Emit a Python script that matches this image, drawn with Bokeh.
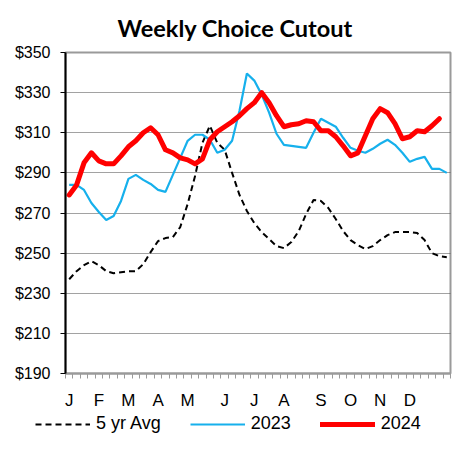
from bokeh.plotting import figure
from bokeh.layouts import column, row
from bokeh.models import Range1d, FixedTicker, Legend, LegendItem, NumeralTickFormatter
from bokeh.embed import file_html
from bokeh.resources import INLINE

# ---- data ----
month_labels = ["J", "F", "M", "A", "M", "J", "J", "A", "S", "O", "N", "D"]
month_start_week = [0, 4, 8, 12, 16, 21, 25, 29, 34, 38, 42, 46]
y_ticks = [190, 210, 230, 250, 270, 290, 310, 330, 350]
series_names = ["5 yr Avg", "2023", "2024"]

avg5 = [237, 241, 244, 246, 244, 241, 240, 240.5, 241, 241, 244.5, 250.5, 256,
        257.5, 258, 263, 274.5, 288.5, 305, 313.5, 305, 301.5, 290, 279, 271, 265,
        260.5, 257, 253.5, 252.5, 255.5, 261, 269.5, 276.5, 276, 272.5, 267, 261,
        256.5, 254, 252, 253.5, 256.5, 259, 260.5, 260.5, 260.5, 260, 256.5, 250,
        248.5, 248]
y2023 = [284, 284, 281.5, 275, 270.5, 266.5, 268.5, 276, 287, 289, 286.5, 284.5,
         281.5, 280.5, 289, 297.5, 306, 309, 309, 306.5, 300, 301.5, 306, 321,
         339.5, 336, 329, 320, 309.5, 304, 303.5, 303, 302.5, 310, 317, 315, 313,
         307.5, 302.5, 301, 300, 302, 304.5, 306.5, 304, 300, 295.5, 297, 298, 292,
         292, 290]
y2024 = [279, 284, 295, 300, 296, 294.5, 294.5, 298.5, 303, 306, 310, 312.5, 309,
         301.5, 300, 297.5, 296.5, 294.5, 297, 306.5, 310.5, 313, 315.5, 318.5, 322,
         325, 330, 325, 318.5, 313, 314, 314.5, 316, 315.5, 311, 311, 308, 303.5,
         298.5, 300, 308.5, 317, 322, 320, 314.5, 307, 308, 311, 310.5, 313.5, 317]

n_weeks = 52
x_avg = [i + 0.5 for i in range(len(avg5))]
x_23 = [i + 0.5 for i in range(len(y2023))]
x_24 = [i + 0.5 for i in range(len(y2024))]

FONT = "Liberation Sans"
STYLES = [dict(line_color="black", line_width=2, line_dash="6 4"),
          dict(line_color="#16B0EC", line_width=2.2),
          dict(line_color="#FF0000", line_width=5, line_join="round", line_cap="round")]

p = figure(width=452, height=412, output_backend="svg", toolbar_location=None,
           x_range=Range1d(0, n_weeks), y_range=Range1d(190, 350),
           min_border_left=65, min_border_right=2, min_border_top=52,
           min_border_bottom=32)
p.background_fill_color = "white"
p.border_fill_color = "white"
p.outline_line_color = "#9a9a9a"
p.outline_line_width = 2

p.line(x_avg, avg5, **STYLES[0])
p.line(x_23, y2023, **STYLES[1])
p.line(x_24, y2024, **STYLES[2])

# title
p.title.text = "Weekly Choice Cutout"
p.title.align = "left"
p.title.offset = 52
p.title.text_font = "Lato"
p.title.text_font_style = "bold"
p.title.text_font_size = "23.5px"
p.title.text_color = "black"
p.title.standoff = 22

# x axis
xa = p.xaxis[0]
xa.ticker = FixedTicker(ticks=[w + 0.5 for w in month_start_week],
                        minor_ticks=list(range(0, n_weeks + 1)))
xa.major_label_overrides = {w + 0.5: m for w, m in zip(month_start_week, month_labels)}
xa.major_tick_out = 0
xa.major_tick_in = 0
xa.minor_tick_out = 5
xa.minor_tick_in = 0
xa.minor_tick_line_color = "#9a9a9a"
xa.axis_line_color = "#9a9a9a"
xa.axis_line_width = 2
xa.major_label_text_font = FONT
xa.major_label_text_font_size = "17px"
xa.major_label_text_color = "black"
xa.major_label_standoff = 12

# y axis
ya = p.yaxis[0]
ya.ticker = FixedTicker(ticks=y_ticks)
ya.formatter = NumeralTickFormatter(format="$0")
ya.major_tick_out = 5
ya.major_tick_in = 0
ya.minor_tick_out = 0
ya.minor_tick_in = 0
ya.major_tick_line_color = "black"
ya.axis_line_color = "black"
ya.axis_line_width = 2
ya.major_label_text_font = FONT
ya.major_label_text_font_size = "16px"
ya.major_label_text_color = "black"
ya.major_label_standoff = 10

p.xgrid.grid_line_color = None
p.ygrid.grid_line_color = "#444444"
p.ygrid.grid_line_dash = "1 1"
p.ygrid.grid_line_width = 1

# legend strip below the chart (its own small plot; the key lines lie outside its view)
p2 = figure(width=452, height=29, output_backend="svg", toolbar_location=None,
            x_range=Range1d(0, 1), y_range=Range1d(0, 1),
            x_axis_type=None, y_axis_type=None,
            min_border_left=0, min_border_right=0, min_border_top=0,
            min_border_bottom=0)
p2.outline_line_color = None
p2.background_fill_color = "white"
p2.border_fill_color = "white"
p2.grid.grid_line_color = None
legend_renderers = [p2.line([5, 6], [5, 6], **s) for s in STYLES]
legend = Legend(items=[LegendItem(label=n, renderers=[r])
                       for n, r in zip(series_names, legend_renderers)],
                orientation="horizontal", location=(35, 7),
                glyph_width=55, glyph_height=16, label_standoff=6, spacing=29,
                padding=0, margin=0, border_line_alpha=0, background_fill_alpha=0,
                label_text_font=FONT, label_text_font_size="18px",
                label_text_color="black")
p2.add_layout(legend)

layout = column(p, row(p2), spacing=0)
open("out.html", "w").write(file_html(layout, INLINE))
